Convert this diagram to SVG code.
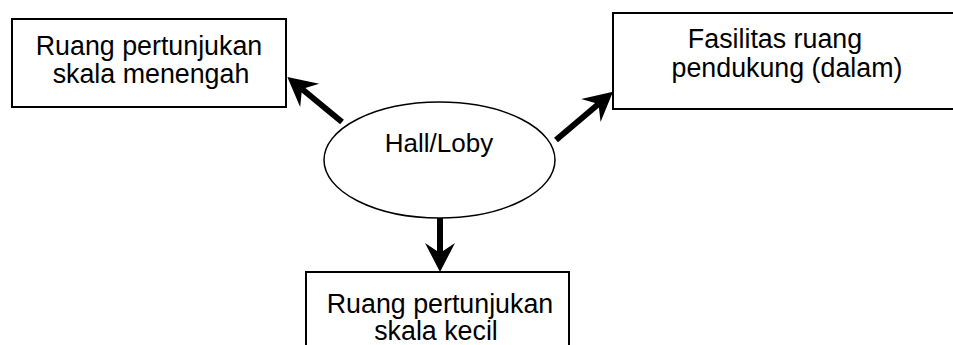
<svg xmlns="http://www.w3.org/2000/svg" width="953" height="345" viewBox="0 0 953 345">
<style>
.box{fill:#fff;stroke:#000;stroke-width:2}
.lbl{font-family:"Liberation Sans",Arial,sans-serif;font-size:26.8px;fill:#000;text-anchor:middle}
.conn{stroke:#000;stroke-width:6;fill:none}
</style>
<defs>
<marker id="ah" markerUnits="userSpaceOnUse" viewBox="-12 -16 32 32" markerWidth="32" markerHeight="32" refX="0" refY="0" orient="auto">
<path d="M19,0 L-10,-15 L0,0 L-10,15 Z" fill="#000"/>
</marker>
</defs>
<rect width="953" height="345" fill="#fff"/>
<g id="n-menengah">
<rect class="box" x="12" y="19" width="274" height="88"/>
<text class="lbl" x="149" y="55">Ruang pertunjukan</text>
<text class="lbl" x="151" y="83">skala menengah</text>
</g>
<g id="n-fasilitas">
<rect class="box" x="613" y="13" width="345" height="96"/>
<text class="lbl" x="775" y="48">Fasilitas ruang</text>
<text class="lbl" x="787" y="77">pendukung (dalam)</text>
</g>
<g id="n-hall">
<ellipse cx="439.5" cy="160" rx="115.5" ry="58" fill="#fff" stroke="#000" stroke-width="1.5"/>
<text class="lbl" x="439" y="152" style="font-size:26px">Hall/Loby</text>
</g>
<g id="n-kecil">
<rect class="box" x="306" y="272" width="263" height="90"/>
<text class="lbl" x="440" y="313">Ruang pertunjukan</text>
<text class="lbl" x="436" y="340">skala kecil</text>
</g>
<g id="connectors">
<line class="conn" x1="342" y1="122" x2="302" y2="89" marker-end="url(#ah)"/>
<line class="conn" x1="556" y1="140" x2="598.5" y2="104" marker-end="url(#ah)"/>
<line class="conn" x1="440" y1="218" x2="440" y2="253" marker-end="url(#ah)"/>
</g>
</svg>
